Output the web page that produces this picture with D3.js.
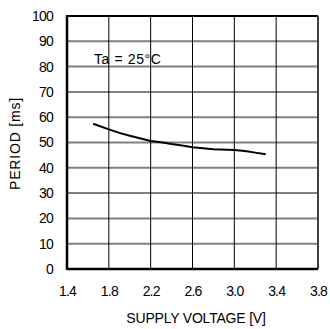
<!DOCTYPE html>
<html>
<head>
<meta charset="utf-8">
<script src="https://d3js.org/d3.v7.min.js"></script>
<style>
  body { margin:0; background:#fff; }
  text { font-family: "Liberation Sans", Arial, sans-serif; fill:#000; }
</style>
</head>
<body>
<script>
var width = 330, height = 329;
var margin = { top:16, right:12, bottom:60, left:67 };

// data
var voltage = [1.65, 1.8, 1.9, 2.0, 2.2, 2.3, 2.4, 2.5, 2.6, 2.8, 3.0, 3.1, 3.2, 3.3];
var period  = [57.4, 55.2, 53.8, 52.7, 50.6, 50.1, 49.4, 48.8, 48.1, 47.3, 47.0, 46.6, 46.0, 45.4];
var xTicks = [1.4, 1.8, 2.2, 2.6, 3.0, 3.4, 3.8];
var yTicks = [0, 10, 20, 30, 40, 50, 60, 70, 80, 90, 100];

var svg = d3.select('body').append('svg')
  .attr('width', width).attr('height', height);

var x = d3.scaleLinear().domain([1.4, 3.8]).range([margin.left, width - margin.right]);
var y = d3.scaleLinear().domain([0, 100]).range([height - margin.bottom, margin.top]);

// horizontal grid (gray)
svg.append('g').selectAll('line').data(yTicks.slice(1, -1)).enter().append('line')
  .attr('x1', x(1.4)).attr('x2', x(3.8))
  .attr('y1', function(d){ return y(d); }).attr('y2', function(d){ return y(d); })
  .attr('stroke', '#808080').attr('stroke-width', 2);

// vertical grid (black)
svg.append('g').selectAll('line').data(xTicks.slice(1, -1)).enter().append('line')
  .attr('x1', function(d){ return x(d); }).attr('x2', function(d){ return x(d); })
  .attr('y1', y(0)).attr('y2', y(100))
  .attr('stroke', '#000').attr('stroke-width', 1);

// frame
svg.append('line').attr('x1', x(1.4)).attr('x2', x(3.8)).attr('y1', y(100)).attr('y2', y(100))
  .attr('stroke', '#000').attr('stroke-width', 2);
svg.append('line').attr('x1', x(3.8)).attr('x2', x(3.8)).attr('y1', y(0)).attr('y2', y(100))
  .attr('stroke', '#404040').attr('stroke-width', 2);
svg.append('line').attr('x1', x(1.4)).attr('x2', x(3.8)).attr('y1', y(0)).attr('y2', y(0))
  .attr('stroke', '#000').attr('stroke-width', 2.5);
svg.append('line').attr('x1', x(1.4)).attr('x2', x(1.4)).attr('y1', y(0) + 1).attr('y2', y(100) - 1)
  .attr('stroke', '#000').attr('stroke-width', 2.5);

// axes (labels only)
var xAxis = d3.axisBottom(x).tickValues(xTicks).tickSize(0).tickPadding(17)
  .tickFormat(d3.format('.1f'));
svg.append('g').attr('transform', 'translate(0,' + y(0) + ')').call(xAxis)
  .call(function(g){ g.select('.domain').remove(); })
  .selectAll('text').style('font-size', '14px').style('letter-spacing', '-0.8px')
  .attr('font-family', null);

var yAxis = d3.axisLeft(y).tickValues(yTicks).tickSize(0).tickPadding(14);
svg.append('g').attr('transform', 'translate(' + x(1.4) + ',0)').call(yAxis)
  .call(function(g){ g.select('.domain').remove(); })
  .selectAll('text').style('font-size', '14px').style('letter-spacing', '-0.8px')
  .attr('font-family', null);

// curve
var pts = voltage.map(function(v, i){ return [v, period[i]]; });
svg.append('path').datum(pts)
  .attr('fill', 'none').attr('stroke', '#000').attr('stroke-width', 2)
  .attr('d', d3.line().x(function(d){ return x(d[0]); }).y(function(d){ return y(d[1]); }));

// annotation
svg.append('text').attr('x', 94).attr('y', 64).style('font-size', '14px')
  .style('letter-spacing', '0.6px').text('Ta = 25°C');

// axis titles
svg.append('text').attr('x', 196).attr('y', 323)
  .attr('text-anchor', 'middle').style('font-size', '14px').style('letter-spacing', '-0.2px')
  .text('SUPPLY VOLTAGE [V]');
svg.append('text').attr('transform', 'translate(20,' + ((y(0) + y(100)) / 2 + 1) + ') rotate(-90)')
  .attr('text-anchor', 'middle').style('font-size', '14px').style('letter-spacing', '0.8px')
  .text('PERIOD [ms]');
</script>
</body>
</html>
